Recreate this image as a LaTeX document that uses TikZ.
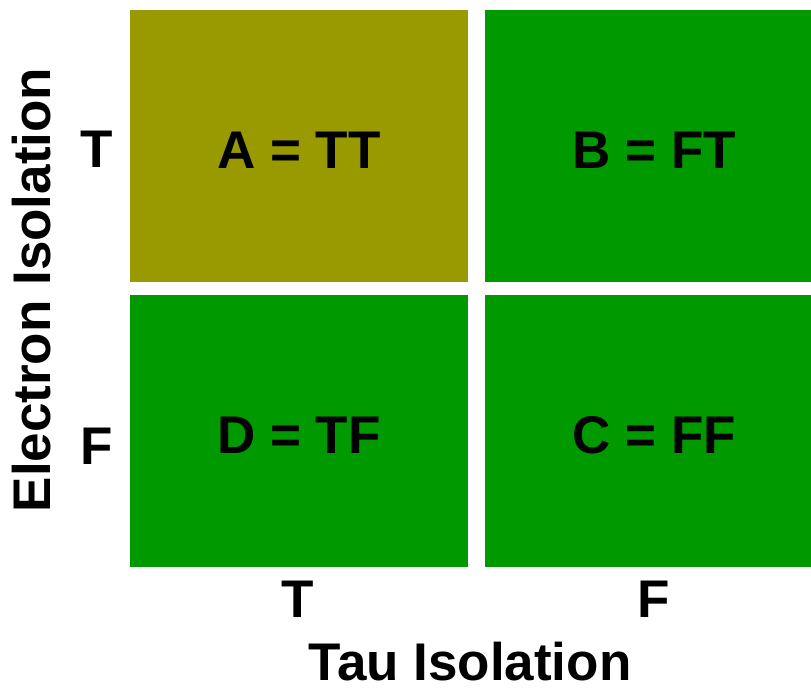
\documentclass[tikz,border=0pt]{standalone}
\usepackage{fontspec}
\setmainfont{Liberation Sans}
\usepackage{tikz}
\usetikzlibrary{positioning}
\definecolor{cellolive}{RGB}{153,153,0}
\definecolor{cellgreen}{RGB}{0,153,0}

\begin{document}
\begin{tikzpicture}[x=1pt,y=-1pt,
	cell/.style={minimum width=338pt,minimum height=272pt,inner sep=0pt,
		text height=44pt,font=\fontsize{53}{60}\selectfont\bfseries},
	axislab/.style={inner sep=0pt,font=\fontsize{53}{60}\selectfont\bfseries}]
	\useasboundingbox (0,0) rectangle (811,688);
	\clip (0,0) rectangle (811,688);
	% the four cells
	\node[cell,fill=cellolive] (A) at (299,146) {A = TT};
	\node[cell,fill=cellgreen,right=17pt of A] (B) {B = FT};
	\node[cell,fill=cellgreen,below=13pt of A] (D) {D = TF};
	\node[cell,fill=cellgreen,right=17pt of D] (C) {C = FF};
	% row and column values
	\node[axislab] (rowT) at (97,149) {T};
	\node[axislab] (rowF) at (97,446) {F};
	\node[axislab] (colT) at (298,599) {T};
	\node[axislab] (colF) at (654,599) {F};
	% axis titles
	\node[axislab] (tau) at (470,662) {Tau Isolation};
	\node[axislab,rotate=90] (ele) at (32,290) {Electron Isolation};
\end{tikzpicture}
\end{document}
